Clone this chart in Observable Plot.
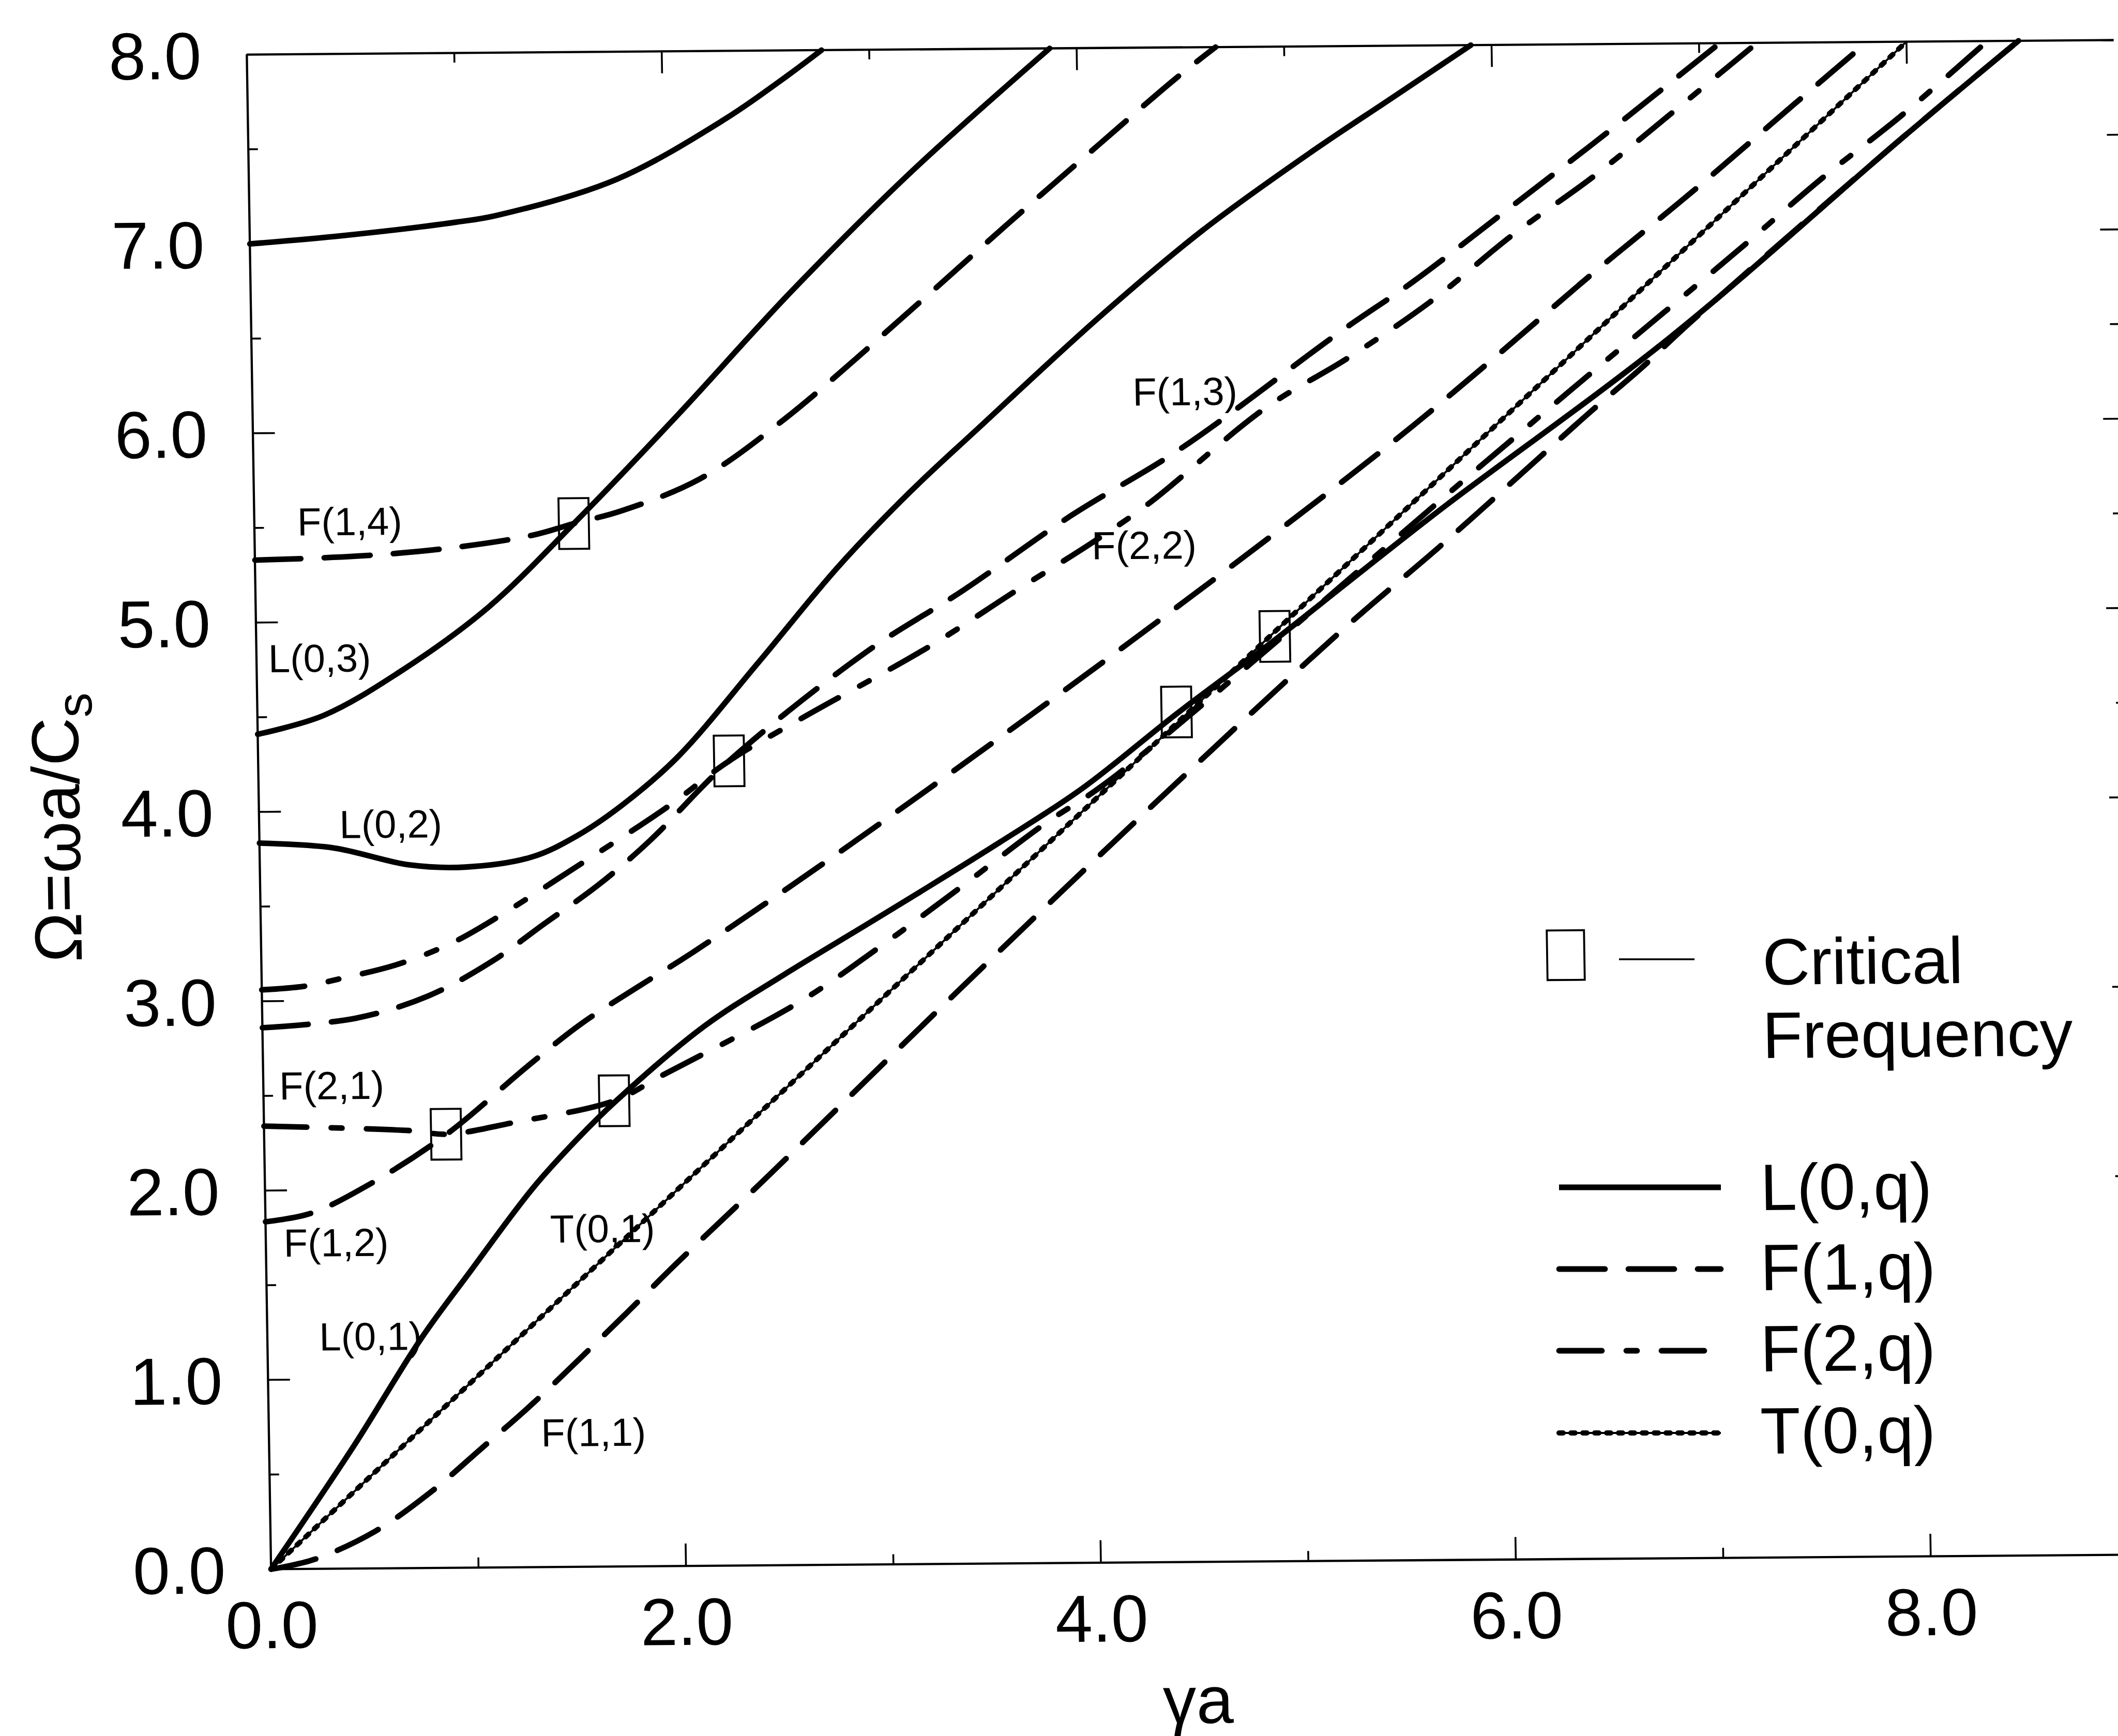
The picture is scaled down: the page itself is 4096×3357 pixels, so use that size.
<!DOCTYPE html>
<html><head><meta charset="utf-8">
<script src="https://cdn.jsdelivr.net/npm/d3@7"></script>
<script src="https://cdn.jsdelivr.net/npm/@observablehq/plot@0.6"></script>
<style>
html,body{margin:0;padding:0;background:#fff;overflow:hidden;}
#chart{width:4096px;height:3357px;}
</style></head><body><div id="chart"></div>
<script>
// ---------------- data (γa, Ω) ----------------
const L01x = [0, 0.41, 0.74, 0.98, 1.29, 1.51, 1.70, 2.13, 2.52, 2.92, 3.18, 3.57, 3.97, 4.43, 4.89, 5.28, 5.72, 6.84, 7.97, 8.54];
const L01y = [0, 0.65, 1.21, 1.56, 2.00, 2.26, 2.46, 2.85, 3.12, 3.38, 3.55, 3.81, 4.09, 4.48, 4.85, 5.18, 5.55, 6.45, 7.49, 8.0];
const L02x = [0, 0.355, 0.72, 0.99, 1.31, 1.53, 1.75, 2.02, 2.42, 2.81, 3.16, 3.50, 4.09, 4.59, 5.12, 5.51, 5.90];
const L02y = [3.835, 3.807, 3.714, 3.70, 3.75, 3.86, 4.02, 4.27, 4.77, 5.27, 5.66, 6.00, 6.58, 7.03, 7.44, 7.72, 8.0];
const L03x = [0, 0.32, 0.69, 1.12, 1.54, 2.05, 2.60, 3.20, 3.87];
const L03y = [4.41, 4.507, 4.734, 5.07, 5.51, 6.08, 6.72, 7.36, 8.0];
const L04x = [0, 0.45, 1.0, 1.19, 1.77, 2.30, 2.57, 2.77];
const L04y = [7.0, 7.04, 7.107, 7.14, 7.325, 7.64, 7.84, 8.0];
const F11x = [0, 0.21, 0.505, 0.775, 1.02, 1.27, 1.73, 1.97, 2.43, 3.35, 4.30, 5.24, 5.73, 6.21, 6.45, 6.70, 6.93, 7.97, 8.54];
const F11y = [0, 0.05, 0.196, 0.40, 0.626, 0.86, 1.335, 1.59, 2.06, 3.02, 3.99, 4.92, 5.37, 5.83, 6.06, 6.29, 6.52, 7.49, 8.0];
const F12x = [0, 0.22, 0.50, 0.88, 1.28, 1.54, 1.82, 2.08, 2.87, 4.21, 5.45, 5.97, 6.46, 6.96, 7.46, 7.81];
const F12y = [1.835, 1.878, 2.026, 2.29, 2.65, 2.87, 3.065, 3.24, 3.82, 4.86, 5.87, 6.33, 6.78, 7.22, 7.68, 8.0];
const F13x = [0, 0.45, 0.80, 1.11, 1.37, 1.63, 1.88, 2.27, 2.94, 3.41, 3.935, 4.47, 5.26, 5.60, 6.04, 6.56, 7.10];
const F13y = [2.86, 2.906, 3.02, 3.20, 3.40, 3.60, 3.83, 4.25, 4.82, 5.14, 5.53, 5.88, 6.50, 6.75, 7.11, 7.54, 8.0];
const F14x = [0, 0.48, 0.91, 1.34, 1.54, 1.77, 2.15, 2.56, 3.23, 3.66, 4.10, 4.48, 4.67];
const F14y = [5.33, 5.346, 5.382, 5.45, 5.51, 5.575, 5.74, 6.05, 6.67, 7.08, 7.49, 7.84, 8.0];
const F21x = [0, 0.71, 0.88, 1.21, 1.69, 1.92, 2.60, 2.98, 3.36, 3.78, 4.10, 5.875, 6.44, 6.81, 7.20, 7.58, 7.97, 8.39];
const F21y = [2.34, 2.31, 2.29, 2.35, 2.46, 2.59, 2.98, 3.26, 3.56, 3.90, 4.13, 5.74, 6.25, 6.58, 6.93, 7.28, 7.61, 8.0];
const F22x = [0, 0.21, 0.385, 0.66, 0.92, 1.12, 1.53, 1.97, 2.27, 2.62, 3.25, 3.67, 4.04, 4.31, 4.88, 5.28, 5.69, 6.08, 6.48, 6.86, 7.28];
const F22y = [3.06, 3.078, 3.117, 3.19, 3.30, 3.42, 3.70, 4.01, 4.25, 4.47, 4.85, 5.14, 5.39, 5.59, 6.09, 6.35, 6.65, 6.99, 7.30, 7.63, 8.0];
const T01x = [0, 8.0];
const T01y = [0, 8.0];

const critX = [0.877, 1.69, 1.54, 2.27, 4.43, 4.91];
const critY = [2.29, 2.46, 5.51, 4.25, 4.49, 4.885];

const labelText = ["F(1,4)", "L(0,3)", "L(0,2)", "F(2,1)", "F(1,2)", "L(0,1)", "T(0,1)", "F(1,1)", "F(1,3)", "F(2,2)"];
const labelX = [0.207, 0.057, 0.387, 0.077, 0.086, 0.25, 1.371, 1.312, 4.243, 4.034];
const labelY = [5.458, 4.737, 3.858, 2.48, 1.65, 1.153, 1.713, 0.637, 6.11, 5.30];

const xTickLabels = [0, 2, 4, 6, 8];
const yTickLabels = [0, 1, 2, 3, 4, 5, 6, 7, 8];
const xMajor = [2, 4, 6, 8];
const xMinor = [1, 3, 5, 7];
const yMajor = [1, 2, 3, 4, 5, 6, 7];
const yMinor = [0.5, 1.5, 2.5, 3.5, 4.5, 5.5, 6.5, 7.5];

const legendNames = ["L(0,q)", "F(1,q)", "F(2,q)", "T(0,q)"];

// ---------------- layout ----------------
const W = 4096, H = 3357;
const FONT = "'Liberation Sans', Arial, Helvetica, sans-serif";
const xRange = [523.7, 523.7 + 9 * 401.2];
const yRange = [3033.9, 105.1];
const LW = 10.8;
const styles = {
  L: {strokeWidth: LW},
  F1: {strokeWidth: LW, strokeDasharray: "89 45", strokeLinecap: "round"},
  F2: {strokeWidth: LW, strokeDasharray: "83 47 21 47", strokeLinecap: "round"},
  Tbase: {strokeWidth: 4},
  T: {strokeWidth: 10, strokeDasharray: "8 15", strokeLinecap: "round"}
};
const pts = (xs, ys) => xs.map((x, i) => ({x, y: ys[i]}));
const line = (xs, ys, st) => Plot.line(pts(xs, ys), {x: "x", y: "y", stroke: "#000", curve: "catmull-rom", ...st});

const tkx = 43 / 401.2, tky = 43 / 366.1, tsx = 19 / 401.2, tsy = 19 / 366.1;
const rectSym = {draw(ctx) { ctx.moveTo(-29, -49); ctx.lineTo(29, -49); ctx.lineTo(29, 49); ctx.lineTo(-29, 49); ctx.closePath(); }};

const chart = Plot.plot({
  width: W, height: H,
  marginLeft: xRange[0], marginTop: yRange[1], marginBottom: H - yRange[0], marginRight: 0,
  x: {domain: [0, 9], range: xRange},
  y: {domain: [0, 8], range: yRange},
  style: {fontFamily: FONT, fontSize: "129px", color: "#000", background: "#fff", overflow: "visible"},
  marks: [
    // frame
    Plot.ruleY([0, 8], {x1: 0, x2: 9, stroke: "#000", strokeWidth: 4.3}),
    Plot.ruleX([0], {y1: 0, y2: 8, stroke: "#000", strokeWidth: 4.3}),
    // inward ticks
    Plot.ruleX(xMajor, {x: d => d, y1: 0, y2: tky, stroke: "#000", strokeWidth: 3.6}),
    Plot.ruleX(xMinor, {x: d => d, y1: 0, y2: tsy, stroke: "#000", strokeWidth: 3.6}),
    Plot.ruleX(xMajor, {x: d => d, y1: 8, y2: 8 - tky, stroke: "#000", strokeWidth: 3.6}),
    Plot.ruleX(xMinor, {x: d => d, y1: 8, y2: 8 - tsy, stroke: "#000", strokeWidth: 3.6}),
    Plot.ruleY(yMajor, {y: d => d, x1: 0, x2: tkx, stroke: "#000", strokeWidth: 3.6}),
    Plot.ruleY(yMinor, {y: d => d, x1: 0, x2: tsx, stroke: "#000", strokeWidth: 3.6}),
    Plot.ruleY(yMajor, {y: d => d, x1: 8.92, x2: 9.2, stroke: "#000", strokeWidth: 3.6}),
    Plot.ruleY(yMinor, {y: d => d, x1: 8.96, x2: 9.2, stroke: "#000", strokeWidth: 3.6}),
    // axes (labels only)
    Plot.axisX({ticks: xTickLabels, tickFormat: d => d.toFixed(1), tickSize: 0, tickPadding: 61, label: null, fontSize: 129}),
    Plot.axisY({ticks: yTickLabels, tickFormat: d => d.toFixed(1), tickSize: 0, tickPadding: 88, label: null, fontSize: 129, dy: 5}),
    // curves
    line(L01x, L01y, styles.L),
    line(L02x, L02y, styles.L),
    line(L03x, L03y, styles.L),
    line(L04x, L04y, styles.L),
    line(F11x, F11y, styles.F1),
    line(F12x, F12y, styles.F1),
    line(F13x, F13y, styles.F1),
    line(F14x, F14y, styles.F1),
    line(F21x, F21y, styles.F2),
    line(F22x, F22y, styles.F2),
    line(T01x, T01y, styles.Tbase),
    line(T01x, T01y, styles.T),
    // critical frequencies
    Plot.dot(pts(critX, critY), {x: "x", y: "y", symbol: rectSym, stroke: "#000", strokeWidth: 3.8, fill: "none"}),
    // curve labels
    Plot.text(labelText.map((t, i) => ({t, x: labelX[i], y: labelY[i]})), {x: "x", y: "y", text: "t", textAnchor: "start", lineAnchor: "bottom", fontSize: 76, fill: "#000"})
  ]
});

// The scanned figure is slightly sheared; reproduce that affine distortion.
const MB = -0.007777, MC = 0.01601, ME = -48.57, MF = 4.073;
const inv = (px, py) => { const y0 = (py - MB * (px - ME) - MF) / (1 - MB * MC); return [px - MC * y0 - ME, y0]; };
const NS = "http://www.w3.org/2000/svg";
const g = document.createElementNS(NS, "g");
g.setAttribute("transform", `matrix(1 ${MB} ${MC} 1 ${ME} ${MF})`);
while (chart.firstChild) g.appendChild(chart.firstChild);
chart.appendChild(g);
const G = d3.select(g);

// axis titles
{
  const [ax, ay] = inv(2318, 3332);
  G.append("text").attr("x", ax).attr("y", ay).attr("text-anchor", "middle").attr("font-size", 129).attr("font-family", FONT).text("γa");
  const [bx, by] = inv(154, 1600);
  const t = G.append("text").attr("transform", `translate(${bx},${by}) rotate(-90)`).attr("text-anchor", "middle").attr("font-size", 129).attr("font-family", FONT);
  t.append("tspan").text("Ω=ωa/C");
  t.append("tspan").attr("font-size", 96).attr("dy", 27).text("s");
}

// legend
{
  const lg = G.append("g").attr("font-family", FONT).attr("font-size", 127).attr("fill", "#000").attr("text-anchor", "start");
  const [rx, ry] = inv(3028, 1847);
  lg.append("rect").attr("x", rx - 36).attr("y", ry - 48).attr("width", 72).attr("height", 96).attr("fill", "none").attr("stroke", "#000").attr("stroke-width", 3.8);
  const [l1x, l1y] = inv(3131, 1855), [l2x, l2y] = inv(3277, 1855);
  lg.append("line").attr("x1", l1x).attr("y1", l1y).attr("x2", l2x).attr("y2", l2y).attr("stroke", "#000").attr("stroke-width", 3.5);
  const [c1x, c1y] = inv(3409, 1904);
  lg.append("text").attr("x", c1x).attr("y", c1y).attr("text-anchor", "start").text("Critical");
  const [c2x, c2y] = inv(3409, 2046);
  lg.append("text").attr("x", c2x).attr("y", c2y).attr("text-anchor", "start").text("Frequency");
  const sts = [[styles.L], [styles.F1], [styles.F2], [styles.Tbase, styles.T]];
  const lineYs = [2296, 2454, 2612, 2771];
  const textYs = [2340, 2495, 2652, 2811];
  legendNames.forEach((name, i) => {
    const [ax, ay] = inv(3015, lineYs[i]), [bx, by] = inv(3328, lineYs[i]);
    for (const st of sts[i]) {
      const ln = lg.append("line").attr("x1", ax).attr("y1", ay).attr("x2", bx).attr("y2", by)
        .attr("stroke", "#000").attr("stroke-width", st.strokeWidth);
      if (st.strokeDasharray) ln.attr("stroke-dasharray", st.strokeDasharray);
      if (st.strokeLinecap) ln.attr("stroke-linecap", st.strokeLinecap);
    }
    const [tx, ty] = inv(3405, textYs[i]);
    lg.append("text").attr("x", tx).attr("y", ty).attr("text-anchor", "start").text(name);
  });
}

document.getElementById("chart").appendChild(chart);
</script>
</body></html>
